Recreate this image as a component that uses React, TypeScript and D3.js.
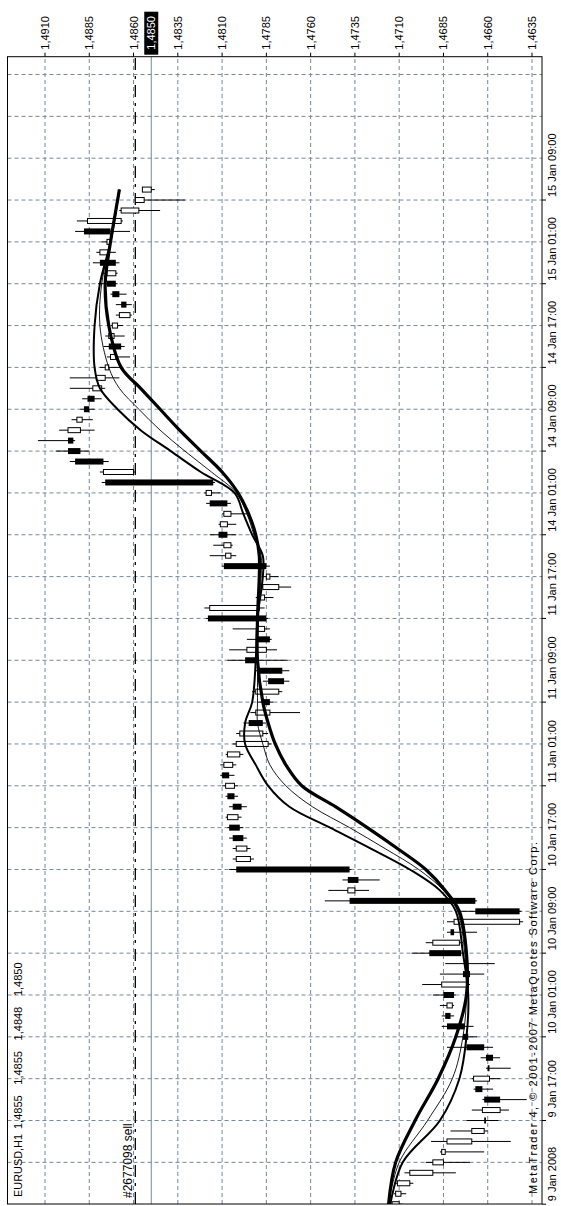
import React from 'react';
import * as d3 from 'd3';

// ---- Data (EURUSD H1, bar index 0 = 9 Jan 2008 09:00) ----
const opens = [
  1.4714, 1.4712, 1.4711, 1.4704, 1.4691, 1.4686, 1.4683, 1.4669, 1.4661, 1.4663,
  1.4653, 1.4663, 1.4668, 1.4659, 1.4657, 1.4662, 1.4671, 1.4673, 1.4681, 1.4683,
  1.4679, 1.4686, 1.4670, 1.4672, 1.4675, 1.4691, 1.4679, 1.4679, 1.4642, 1.4667,
  1.4739, 1.4733, 1.4738, 1.4802, 1.4802, 1.4798, 1.4800, 1.4807, 1.4799, 1.4803,
  1.4808, 1.4806, 1.4809, 1.4807, 1.4802, 1.4800, 1.4787, 1.4791, 1.4783, 1.4791,
  1.4775, 1.4776, 1.4790, 1.4796, 1.4783, 1.4790, 1.4785, 1.4817, 1.4789, 1.4787,
  1.4785, 1.4785, 1.4808, 1.4809, 1.4807, 1.4811, 1.4809, 1.4807, 1.4819, 1.4815,
  1.4877, 1.4877, 1.4890, 1.4894, 1.4897, 1.4892, 1.4885, 1.4882, 1.4883, 1.4881,
  1.4876, 1.4873, 1.4867, 1.4874, 1.4872, 1.4868, 1.4864, 1.4868, 1.4870, 1.4875,
  1.4870, 1.4879, 1.4875, 1.4873, 1.4886, 1.4867, 1.4859, 1.4855,
];
const highs = [
  1.4715, 1.4713, 1.4712, 1.4707, 1.4695, 1.4687, 1.4692, 1.4681, 1.4672, 1.4669,
  1.4663, 1.4668, 1.4669, 1.4661, 1.4664, 1.4683, 1.4679, 1.4686, 1.4686, 1.4687,
  1.4691, 1.4697, 1.4687, 1.4684, 1.4703, 1.4695, 1.4683, 1.4683, 1.4676, 1.4752,
  1.4750, 1.4742, 1.4806, 1.4804, 1.4804, 1.4806, 1.4807, 1.4808, 1.4806, 1.4808,
  1.4810, 1.4811, 1.4811, 1.4808, 1.4804, 1.4802, 1.4798, 1.4794, 1.4790, 1.4793,
  1.4787, 1.4791, 1.4807, 1.4806, 1.4796, 1.4804, 1.4819, 1.4820, 1.4791, 1.4788,
  1.4787, 1.4810, 1.4817, 1.4815, 1.4817, 1.4812, 1.4810, 1.4819, 1.4820, 1.4878,
  1.4879, 1.4896, 1.4904, 1.4914, 1.4902, 1.4895, 1.4890, 1.4889, 1.4896, 1.4896,
  1.4879, 1.4875, 1.4877, 1.4876, 1.4873, 1.4870, 1.4870, 1.4873, 1.4880, 1.4878,
  1.4883, 1.4881, 1.4878, 1.4893, 1.4892, 1.4868, 1.4859, 1.4855,
];
const lows = [
  1.4708, 1.4706, 1.4702, 1.4678, 1.4670, 1.4662, 1.4647, 1.4660, 1.4654, 1.4648,
  1.4638, 1.4657, 1.4653, 1.4647, 1.4653, 1.4657, 1.4666, 1.4668, 1.4679, 1.4679,
  1.4678, 1.4670, 1.4662, 1.4656, 1.4674, 1.4674, 1.4666, 1.4640, 1.4641, 1.4666,
  1.4727, 1.4721, 1.4737, 1.4792, 1.4794, 1.4796, 1.4798, 1.4799, 1.4796, 1.4801,
  1.4801, 1.4803, 1.4802, 1.4798, 1.4782, 1.4784, 1.4785, 1.4766, 1.4781, 1.4776,
  1.4772, 1.4772, 1.4773, 1.4779, 1.4782, 1.4783, 1.4784, 1.4786, 1.4781, 1.4771,
  1.4778, 1.4783, 1.4802, 1.4804, 1.4802, 1.4802, 1.4795, 1.4805, 1.4811, 1.4814,
  1.4859, 1.4874, 1.4885, 1.4893, 1.4882, 1.4883, 1.4882, 1.4878, 1.4876, 1.4868,
  1.4866, 1.4862, 1.4865, 1.4865, 1.4866, 1.4861, 1.4861, 1.4864, 1.4869, 1.4869,
  1.4868, 1.4870, 1.4872, 1.4862, 1.4866, 1.4845, 1.4831, 1.4848,
];
const closes = [
  1.4710, 1.4709, 1.4704, 1.4691, 1.4685, 1.4684, 1.4669, 1.4662, 1.4662, 1.4653,
  1.4662, 1.4667, 1.4659, 1.4660, 1.4661, 1.4672, 1.4674, 1.4683, 1.4684, 1.4680,
  1.4685, 1.4671, 1.4674, 1.4673, 1.4693, 1.4676, 1.4681, 1.4642, 1.4667, 1.4738,
  1.4735, 1.4739, 1.4802, 1.4794, 1.4796, 1.4804, 1.4806, 1.4801, 1.4804, 1.4807,
  1.4803, 1.4810, 1.4804, 1.4800, 1.4784, 1.4787, 1.4795, 1.4783, 1.4787, 1.4778,
  1.4784, 1.4790, 1.4797, 1.4785, 1.4790, 1.4786, 1.4818, 1.4789, 1.4786, 1.4778,
  1.4783, 1.4809, 1.4805, 1.4805, 1.4812, 1.4807, 1.4805, 1.4817, 1.4816, 1.4876,
  1.4860, 1.4893, 1.4897, 1.4897, 1.4890, 1.4889, 1.4888, 1.4886, 1.4878, 1.4876,
  1.4874, 1.4870, 1.4874, 1.4871, 1.4869, 1.4862, 1.4867, 1.4872, 1.4875, 1.4870,
  1.4879, 1.4874, 1.4873, 1.4888, 1.4867, 1.4857, 1.4854, 1.4850,
];

// moving averages at these bars
const maBars = [0, 4, 8, 12, 16, 20, 24, 28, 30, 32, 34, 36, 38, 40, 42, 44, 46, 48, 52, 56, 60, 62, 64, 66, 68, 70, 72, 74, 76, 78, 80, 84, 88, 92, 96, 97];
const maSlow = [1.4716, 1.4712, 1.4701, 1.4688, 1.4678, 1.4672, 1.4672, 1.4676, 1.4684, 1.4695, 1.4711, 1.4728, 1.4746, 1.4765, 1.4774, 1.4780, 1.4784, 1.4787, 1.4790, 1.4790, 1.4789, 1.4789, 1.4791, 1.4795, 1.4801, 1.4810, 1.4822, 1.4834, 1.4845, 1.4856, 1.4867, 1.4874, 1.4876, 1.4873, 1.4869, 1.4868];
const maMid = [1.4716, 1.4710, 1.4694, 1.4680, 1.4674, 1.4672, 1.4673, 1.4677, 1.4685, 1.4699, 1.4718, 1.4738, 1.4759, 1.4774, 1.4783, 1.4787, 1.4790, 1.4790, 1.4790, 1.4790, 1.4788, 1.4788, 1.4792, 1.4796, 1.4802, 1.4816, 1.4831, 1.4845, 1.4857, 1.4868, 1.4874, 1.4879, 1.4878, 1.4873, 1.4869, 1.4868];
const maFast = [1.4715, 1.4708, 1.4687, 1.4676, 1.4672, 1.4671, 1.4674, 1.4678, 1.4687, 1.4704, 1.4726, 1.4749, 1.4772, 1.4784, 1.4791, 1.4797, 1.4797, 1.4793, 1.4791, 1.4790, 1.4787, 1.4787, 1.4793, 1.4798, 1.4803, 1.4822, 1.4839, 1.4856, 1.4869, 1.4879, 1.4882, 1.4882, 1.4879, 1.4873, 1.4869, 1.4868];

const priceTicks = [1.491, 1.4885, 1.486, 1.4835, 1.481, 1.4785, 1.476, 1.4735, 1.471, 1.4685, 1.466, 1.4635];
const timeLabelBars = [0, 8, 16, 24, 32, 40, 48, 56, 64, 72, 80, 88, 96];
const timeLabels = ['9 Jan 2008', '9 Jan 17:00', '10 Jan 01:00', '10 Jan 09:00', '10 Jan 17:00', '11 Jan 01:00', '11 Jan 09:00', '11 Jan 17:00', '14 Jan 01:00', '14 Jan 09:00', '14 Jan 17:00', '15 Jan 01:00', '15 Jan 09:00'];
const gridBars = d3.range(4, 112, 4);
const bidPrice = 1.485;
const orderPrice = 1.4859;
const headerSymbol = 'EURUSD,H1';
const headerValues = ['1,4855', '1,4855', '1,4848', '1,4850'];
const orderLabel = '#2677098 sell';
const copyright = 'MetaTrader 4, \u00A9 2001-2007 MetaQuotes Software Corp.';

const FONT = "'Liberation Sans', Arial, sans-serif";
const GRID = '#778899';

export default function App() {
  // unrotated coordinates: u along time, v along price (drawn then rotated -90deg)
  const x = d3.scaleLinear().domain([0, 100]).range([1.8, 1047.8]);
  const y = d3.scaleLinear().domain([1.491, 1.4635]).range([45, 532]);
  const plotL = 2, plotR = 1149.3, plotT = 7.5, plotB = 542;
  const fmt = (p: number) => p.toFixed(4).replace('.', ',');

  const mkLine = (vals: number[]) =>
    d3.line<number>()
      .x((_, k) => x(maBars[k]))
      .y((v) => y(v))
      .curve(d3.curveCatmullRom.alpha(0.5))(vals) || '';

  return (
    <svg width={561} height={1206} style={{ position: 'absolute', left: 0, top: 0 }} fontFamily={FONT}>
      <rect width={561} height={1206} fill="#fff" />
      <g transform="translate(0,1206) rotate(-90)">
        <defs>
          <clipPath id="plotClip">
            <rect x={plotL} y={plotT} width={plotR - plotL} height={plotB - plotT} />
          </clipPath>
        </defs>
        <g clipPath="url(#plotClip)">
          {priceTicks.map((p) => (
            <line key={'gp' + p} x1={plotL} x2={plotR} y1={y(p)} y2={y(p)} stroke={GRID} strokeDasharray="4,3" strokeWidth={1} />
          ))}
          {gridBars.map((b) => (
            <line key={'gb' + b} x1={x(b)} x2={x(b)} y1={plotT} y2={plotB} stroke={GRID} strokeDasharray="4,3" strokeWidth={1} />
          ))}
          <line x1={plotL} x2={plotR} y1={y(bidPrice)} y2={y(bidPrice)} stroke={GRID} strokeWidth={1} />
          <line x1={plotL} x2={plotR} y1={y(orderPrice)} y2={y(orderPrice)} stroke="#000" strokeWidth={1.3} strokeDasharray="12,6,3,6" />
          {opens.map((o, i) => {
            const c = closes[i];
            const cx = x(i);
            const top = y(Math.max(o, c));
            const bot = y(Math.min(o, c));
            const bull = c >= o;
            return (
              <g key={'c' + i}>
                <line x1={cx} x2={cx} y1={y(highs[i])} y2={y(lows[i])} stroke="#000" strokeWidth={1} />
                {bull ? (
                  <rect x={cx - 3} y={top} width={6} height={Math.max(1.5, bot - top)} fill="#000" />
                ) : (
                  <rect x={cx - 2.5} y={top} width={5} height={Math.max(1, bot - top)} fill="#fff" stroke="#000" strokeWidth={1} />
                )}
              </g>
            );
          })}
          <path d={mkLine(maSlow)} fill="none" stroke="#000" strokeWidth={3.2} strokeLinejoin="round" />
          <path d={mkLine(maFast)} fill="none" stroke="#000" strokeWidth={2} strokeLinejoin="round" />
          <path d={mkLine(maMid)} fill="none" stroke="#000" strokeWidth={0.9} strokeLinejoin="round" />
          <text y={22} fontSize={11} fill="#000">
            <tspan x={9} textLength={63} lengthAdjust="spacingAndGlyphs">{headerSymbol}</tspan>
            {headerValues.map((v, k) => (
              <tspan key={k} x={77 + k * 44.3}>{v}</tspan>
            ))}
          </text>
          <text x={8} y={y(orderPrice) - 3} fontSize={12} fill="#000">{orderLabel}</text>
          <text x={12} y={537} fontSize={11} fill="#000" textLength={352} lengthAdjust="spacing">{copyright}</text>
        </g>
        <rect x={plotL} y={plotT} width={plotR - plotL} height={plotB - plotT} fill="none" stroke="#000" strokeWidth={1} />
        {priceTicks.map((p) => (
          <g key={'pt' + p}>
            <line x1={plotR} x2={plotR + 4} y1={y(p)} y2={y(p)} stroke="#000" />
            <text x={plotR + 7} y={y(p) + 4} fontSize={11} fill="#000">{fmt(p)}</text>
          </g>
        ))}
        <rect x={plotR + 2} y={y(bidPrice) - 7} width={43} height={14} fill="#000" />
        <text x={plotR + 7} y={y(bidPrice) + 4} fontSize={11} fill="#fff">{fmt(bidPrice)}</text>
        {timeLabelBars.map((b, k) => (
          <g key={'tl' + b}>
            <line x1={x(b)} x2={x(b)} y1={plotB} y2={plotB + 4} stroke="#000" />
            <text x={x(b) + 3} y={plotB + 14} fontSize={11} fill="#000">{timeLabels[k]}</text>
          </g>
        ))}
      </g>
    </svg>
  );
}
